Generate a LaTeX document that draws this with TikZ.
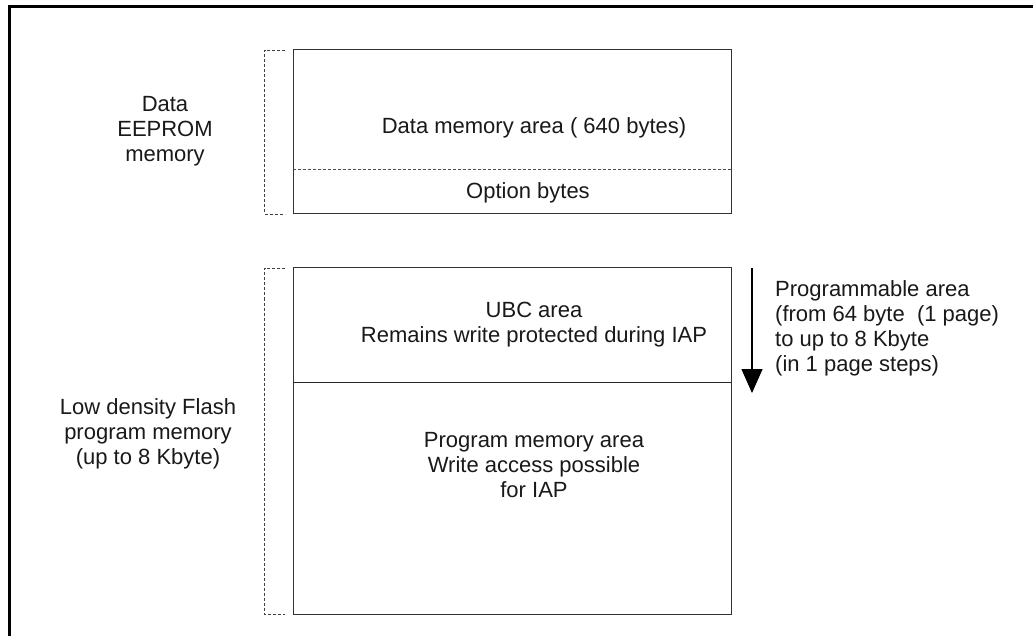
\documentclass[tikz,border=0pt]{standalone}
\usepackage{fontspec}
\setmainfont{Liberation Sans}
\usetikzlibrary{arrows.meta}
\begin{document}
\begin{tikzpicture}[x=1pt,y=-1pt,
  txt/.style={font=\fontsize{22}{25}\selectfont, align=center, inner sep=0pt, text=black!90},
  ltxt/.style={font=\fontsize{22}{25}\selectfont, align=left, inner sep=0pt, text=black!90},
  membox/.style={draw=black!80, line width=1pt, inner sep=0pt},
  brk/.style={draw=black!75, dashed, dash pattern=on 3pt off 2pt, line width=0.9pt}]
\useasboundingbox (0,0) rectangle (1033,636);
\fill[white] (0,0) rectangle (1033,636);
% frame
\draw[line width=2.6pt, black] (9.5,660) -- (9.5,6.5) -- (1060,6.5);
% top memory box
\node[membox, minimum width=438pt, minimum height=164pt] (eep) at (512,132) {};
\coordinate (sepL) at (293,169);
\coordinate (sepR) at (731,169);
\draw[black!70, dashed, dash pattern=on 3pt off 2pt, line width=0.8pt] (sepL) -- (sepR);
\node[txt] (dma) at (534,128) {Data memory area ( 640 bytes)};
\node[txt] (opt) at (528,193) {Option bytes};
% top bracket
\draw[brk] (285,50) -- (264.5,50) -- (264.5,214) -- (285,214);
\node[txt] (eeplbl) at (165,131) {Data\\EEPROM\\memory};
% bottom memory box
\node[membox, minimum width=438pt, minimum height=346pt] (flash) at (512,441) {};
\coordinate (ubcL) at (293,382);
\coordinate (ubcR) at (731,382);
\draw[black!85, line width=1pt] (ubcL) -- (ubcR);
\node[txt] (ubc) at (534,325) {UBC area\\Remains write protected during IAP};
\node[txt] (prog) at (534,465) {Program memory area\\Write access possible\\for IAP};
% bottom bracket
\draw[brk] (285,268) -- (264.5,268) -- (264.5,614) -- (285,614);
\node[txt] (flashlbl) at (148,434) {Low density Flash\\program memory\\(up to 8 Kbyte)};
% arrow
\coordinate (aTop) at (752,268);
\coordinate (aBot) at (752,393);
\draw[line width=1.3pt, -{Triangle[length=24pt, width=21pt]}] (aTop) -- (aBot);
\node[ltxt, anchor=west] (prg) at (775,328) {Programmable area\\(from 64 byte\ \ (1 page)\\to up to 8 Kbyte\\(in 1 page steps)};
\end{tikzpicture}
\end{document}
